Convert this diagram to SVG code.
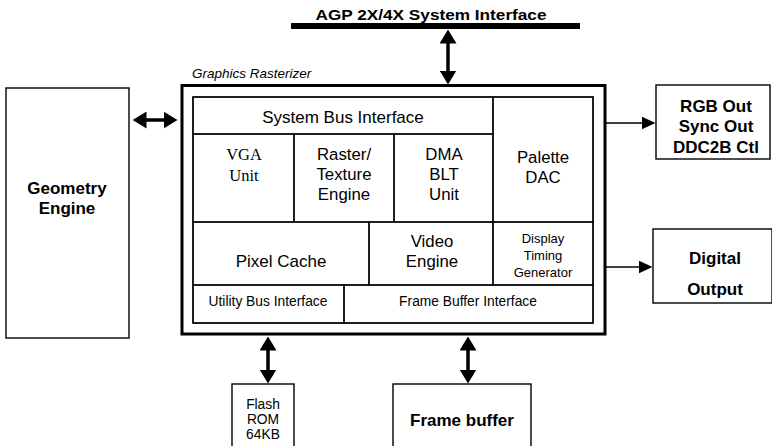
<svg xmlns="http://www.w3.org/2000/svg" width="772" height="446" viewBox="0 0 772 446">
<defs>
<style>
text{font-family:"Liberation Sans",Arial,sans-serif;fill:#000;text-anchor:middle}
.b{font-weight:bold;font-size:17px}
.m{font-size:16.8px}
.s{font-size:13.8px}
.xs{font-size:13px}
.serif{font-family:"Liberation Serif","Times New Roman",serif;font-size:16.5px}
.box{fill:#fff;stroke:#000;stroke-width:1.4}
.cell{fill:none;stroke:#000;stroke-width:1.3}
.thick{stroke:#000;stroke-width:3.5;fill:none}
.thin{stroke:#000;stroke-width:1.5;fill:none}
</style>
<marker id="bh" viewBox="0 0 14 17" refX="0.5" refY="8.5" markerWidth="14" markerHeight="17" markerUnits="userSpaceOnUse" orient="auto-start-reverse">
<path d="M0,0 L14,8.5 L0,17 z" fill="#000"/>
</marker>
<marker id="sh" viewBox="0 0 14 13" refX="0.5" refY="6.5" markerWidth="14" markerHeight="13" markerUnits="userSpaceOnUse" orient="auto">
<path d="M0,0 L14,6.5 L0,13 z" fill="#000"/>
</marker>
</defs>
<rect width="772" height="446" fill="#fff"/>

<g id="agp-bus">
<line x1="291" y1="26" x2="580" y2="26" stroke="#000" stroke-width="6"/>
<text class="b" x="431" y="20" textLength="231" lengthAdjust="spacingAndGlyphs" style="font-size:15.5px">AGP 2X/4X System Interface</text>
</g>

<g id="geometry-engine">
<rect class="box" x="6" y="88" width="123" height="250"/>
<text class="b" x="67" y="194">Geometry</text>
<text class="b" x="67" y="214">Engine</text>
</g>

<g id="graphics-rasterizer">
<text x="192" y="78" style="font-style:italic;font-size:13.5px;text-anchor:start">Graphics Rasterizer</text>
<rect x="182" y="85.5" width="423" height="248.5" fill="#fff" stroke="#000" stroke-width="3"/>
<rect class="cell" x="193" y="97" width="400" height="226"/>
</g>

<g id="system-bus-interface">
<rect class="cell" x="193" y="97" width="300" height="37"/>
<text class="m" x="343" y="123" style="font-size:17px">System Bus Interface</text>
</g>
<g id="vga-unit">
<rect class="cell" x="193" y="134" width="101" height="88"/>
<text class="serif" x="244" y="160">VGA</text>
<text class="serif" x="244" y="181">Unit</text>
</g>
<g id="raster-texture-engine">
<rect class="cell" x="294" y="134" width="100" height="88"/>
<text class="m" x="344" y="160">Raster/</text>
<text class="m" x="344" y="180">Texture</text>
<text class="m" x="344" y="200">Engine</text>
</g>
<g id="dma-blt-unit">
<rect class="cell" x="394" y="134" width="99" height="88"/>
<text class="m" x="444" y="160">DMA</text>
<text class="m" x="444" y="180">BLT</text>
<text class="m" x="444" y="200">Unit</text>
</g>
<g id="palette-dac">
<rect class="cell" x="493" y="97" width="100" height="125"/>
<text class="m" x="543" y="163">Palette</text>
<text class="m" x="543" y="183">DAC</text>
</g>
<g id="pixel-cache">
<rect class="cell" x="193" y="222" width="176" height="63"/>
<text class="m" x="281" y="267" style="font-size:17px">Pixel Cache</text>
</g>
<g id="video-engine">
<rect class="cell" x="369" y="222" width="124" height="63"/>
<text class="m" x="432" y="247">Video</text>
<text class="m" x="432" y="267">Engine</text>
</g>
<g id="display-timing-generator">
<rect class="cell" x="493" y="222" width="100" height="63"/>
<text class="xs" x="543" y="243">Display</text>
<text class="xs" x="543" y="260">Timing</text>
<text class="xs" x="543" y="277">Generator</text>
</g>
<g id="utility-bus-interface">
<rect class="cell" x="193" y="285" width="151" height="38"/>
<text class="s" x="268" y="306">Utility Bus Interface</text>
</g>
<g id="frame-buffer-interface">
<rect class="cell" x="344" y="285" width="249" height="38"/>
<text class="s" x="468" y="306">Frame Buffer Interface</text>
</g>

<g id="rgb-out">
<rect class="box" x="656" y="85" width="114" height="74"/>
<text class="b" x="716" y="112">RGB Out</text>
<text class="b" x="716" y="132">Sync Out</text>
<text class="b" x="716" y="153">DDC2B Ctl</text>
</g>

<g id="digital-output">
<rect class="box" x="653" y="229" width="119" height="74"/>
<text class="b" x="715" y="264">Digital</text>
<text class="b" x="715" y="295">Output</text>
</g>

<g id="flash-rom">
<rect class="box" x="232" y="384" width="62" height="70"/>
<text class="s" x="263" y="409">Flash</text>
<text class="s" x="263" y="424">ROM</text>
<text class="s" x="263" y="439">64KB</text>
</g>

<g id="frame-buffer">
<rect class="box" x="393" y="384" width="138" height="70"/>
<text class="b" x="462" y="426">Frame buffer</text>
</g>

<g id="connectors">
<line class="thick" x1="448" y1="43" x2="448" y2="71" marker-start="url(#bh)" marker-end="url(#bh)"/>
<line class="thick" x1="146" y1="120" x2="164" y2="120" marker-start="url(#bh)" marker-end="url(#bh)"/>
<line class="thick" x1="268" y1="350" x2="268" y2="370" marker-start="url(#bh)" marker-end="url(#bh)"/>
<line class="thick" x1="468" y1="350" x2="468" y2="370" marker-start="url(#bh)" marker-end="url(#bh)"/>
<line class="thin" x1="605" y1="123" x2="642" y2="123" marker-end="url(#sh)"/>
<line class="thin" x1="604" y1="267" x2="639" y2="267" marker-end="url(#sh)"/>
</g>
</svg>
